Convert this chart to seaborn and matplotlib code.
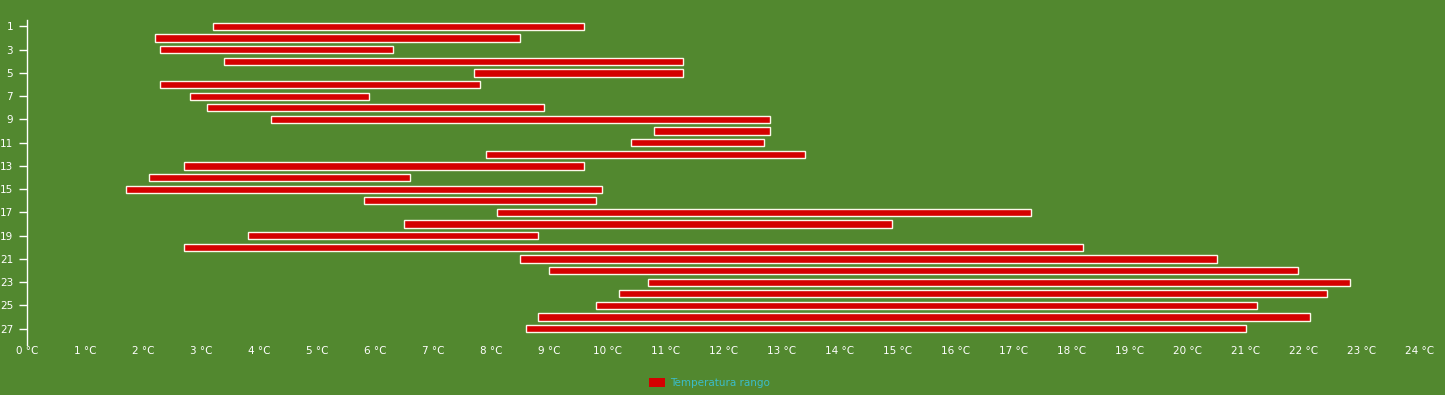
import pandas as pd
import seaborn as sns
import matplotlib
import matplotlib.pyplot as plt
from matplotlib.patches import Patch
matplotlib.use('Agg')

# dias y rango de temperatura (min / max) en °C
dias = list(range(1, 28))
t_min = [3.2, 2.2, 2.3, 3.4, 7.7, 2.3, 2.8, 3.1, 4.2, 10.8,
         10.4, 7.9, 2.7, 2.1, 1.7, 5.8, 8.1, 6.5, 3.8, 2.7,
         8.5, 9.0, 10.7, 10.2, 9.8, 8.8, 8.6]
t_max = [9.6, 8.5, 6.3, 11.3, 11.3, 7.8, 5.9, 8.9, 12.8, 12.8,
         12.7, 13.4, 9.6, 6.6, 9.9, 9.8, 17.3, 14.9, 8.8, 18.2,
         20.5, 21.9, 22.8, 22.4, 21.2, 22.1, 21.0]
x_ticks = list(range(0, 25))
y_ticks = list(range(1, 28, 2))

BG = '#52882f'
RED = '#d40000'

df = pd.DataFrame({'dia': dias, 'min': t_min, 'max': t_max})
df['rango'] = df['max'] - df['min']

sns.set_style('white')
plt.rcParams['font.family'] = ['DejaVu Sans']

fig = plt.figure(figsize=(14.45, 3.95), dpi=100, facecolor=BG)
ax = fig.add_axes([27 / 1445, 1 - 345 / 395, 1393 / 1445, 325 / 395])
ax.set_facecolor(BG)

sns.barplot(data=df, x='rango', y='dia', orient='y', native_scale=True,
            left=df['min'].to_numpy(), color=RED, saturation=1,
            width=0.62, edgecolor='#fbf8ea', linewidth=1, ax=ax)

ax.set_xlim(0, 24)
ax.set_ylim(28.4, 0.45)
ax.set_xticks(x_ticks)
ax.set_xticklabels([f'{t} °C' for t in x_ticks])
ax.set_yticks(y_ticks)
ax.set_yticklabels([str(d) for d in y_ticks])
ax.set_xlabel('')
ax.set_ylabel('')

for s in ['top', 'right', 'bottom']:
    ax.spines[s].set_visible(False)
ax.spines['left'].set_color('white')
ax.spines['left'].set_linewidth(1)
ax.tick_params(axis='x', direction='in', length=8, width=1, color='white',
               labelcolor='white', labelsize=7.5, pad=1)
ax.tick_params(axis='y', direction='out', length=6, width=1, color='white',
               labelcolor='white', labelsize=7.5, pad=4, left=True)

leg = fig.legend(handles=[Patch(facecolor=RED, edgecolor='none', label='Temperatura rango')],
                 loc='center', bbox_to_anchor=(0.491, 0.031), frameon=False,
                 handlelength=1.5, handleheight=1.05, handletextpad=0.45,
                 prop={'size': 7.5})
for t in leg.get_texts():
    t.set_color('#3cbcc8')

fig.savefig('out.png', dpi=100, facecolor=BG)
